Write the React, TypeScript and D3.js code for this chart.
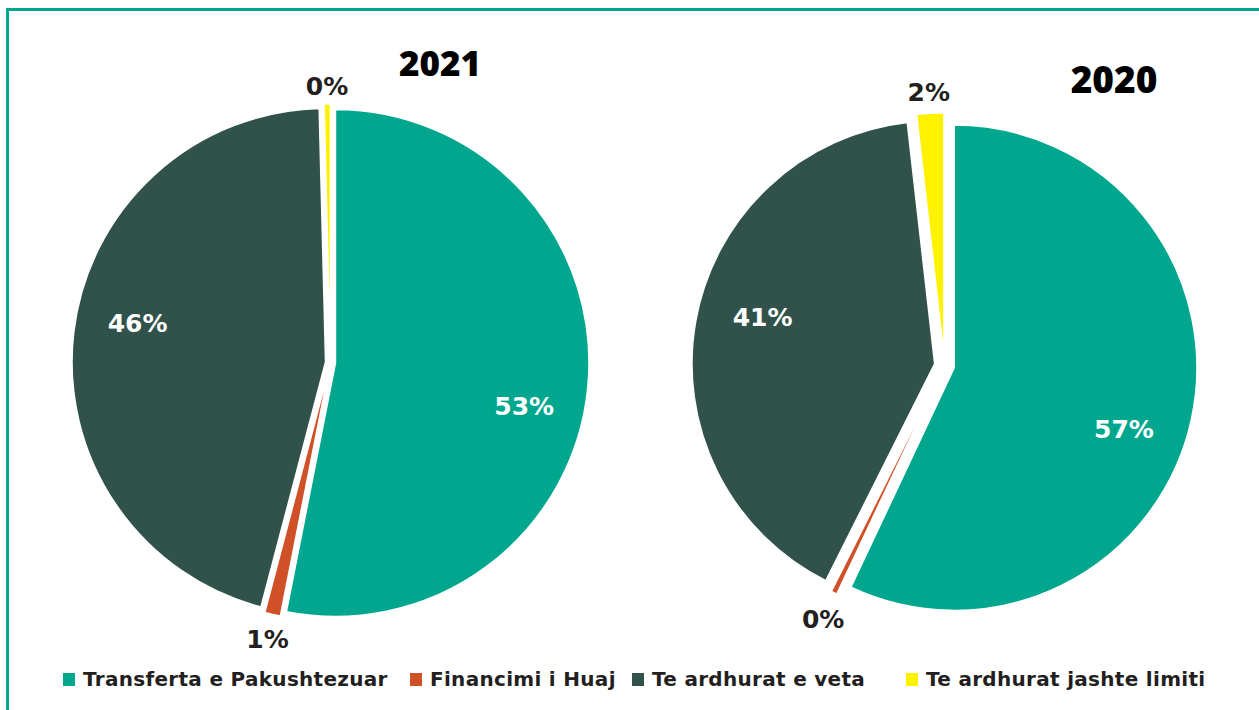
import React from "react";
import * as d3 from "d3";

const categories = ["Transferta e Pakushtezuar", "Financimi i Huaj", "Te ardhurat e veta", "Te ardhurat jashte limiti"];
const colors = ["#00A78E", "#D05127", "#30524A", "#FFF200"];
const values2021 = [53.1, 1.0, 45.5, 0.4];
const labels2021 = ["53%", "1%", "46%", "0%"];
const values2020 = [57.0, 0.4, 40.8, 1.8];
const labels2020 = ["57%", "0%", "41%", "2%"];
const outside = [false, true, false, true];

type PieProps = { cx: number; cy: number; r: number; explode: number; outR: number; values: number[]; labels: string[]; title: string; tx: number; ty: number; tsize: number };

const labelFont = "'DejaVu Sans', sans-serif";
const titleFont = "'Open Sans', 'DejaVu Sans', sans-serif";

function Pie({ cx, cy, r, explode, outR, values, labels, title, tx, ty, tsize }: PieProps) {
  const pie = d3.pie<number>().sort(null).value((d) => d)(values);
  const arc = d3.arc<d3.PieArcDatum<number>>().innerRadius(0).outerRadius(r);
  const insideShift = (6 * Math.PI) / 180;
  return (
    <g>
      {pie.map((p, i) => {
        const mid = (p.startAngle + p.endAngle) / 2;
        const ox = explode * Math.sin(mid);
        const oy = -explode * Math.cos(mid);
        return (
          <path key={i} d={arc(p) || ""} transform={`translate(${cx + ox},${cy + oy})`} fill={colors[i]} stroke="#fff" strokeWidth={1.5} />
        );
      })}
      {pie.map((p, i) => {
        const mid = (p.startAngle + p.endAngle) / 2 + (outside[i] ? 0 : insideShift);
        const lr = outside[i] ? r + outR : r * 0.78;
        const x = cx + lr * Math.sin(mid);
        const y = cy - lr * Math.cos(mid);
        return (
          <text key={"l" + i} x={x} y={y} dy="0.5em" textAnchor="middle" fontFamily={labelFont} fontWeight={700} fontSize={25} fill={outside[i] ? "#231F20" : "#fff"}>
            {labels[i]}
          </text>
        );
      })}
      <text x={tx} y={ty} textAnchor="middle" fontFamily={titleFont} fontWeight={800} fontSize={tsize} fill="#000">
        {title}
      </text>
    </g>
  );
}

export default function App() {
  const legendX = [63, 410, 632, 906];
  return (
    <svg width={1259} height={710} style={{ position: "absolute", left: 0, top: 0, background: "#fff" }}>
      <rect x={7.5} y={9.5} width={1262} height={712} fill="none" stroke="#00A78E" strokeWidth={3} />
      <Pie cx={330.5} cy={362.5} r={253.5} explode={5} outR={27} values={values2021} labels={labels2021} title="2021" tx={440} ty={76} tsize={35} />
      <Pie cx={944.5} cy={365.5} r={242.7} explode={10} outR={35} values={values2020} labels={labels2020} title="2020" tx={1114} ty={93} tsize={37} />
      {categories.map((c, i) => (
        <g key={c}>
          <rect x={legendX[i]} y={673} width={12} height={13} fill={colors[i]} />
          <text x={legendX[i] + 20} y={686} fontFamily={labelFont} fontWeight={700} fontSize={20} letterSpacing={0.3} fill="#231F20">
            {c}
          </text>
        </g>
      ))}
    </svg>
  );
}
